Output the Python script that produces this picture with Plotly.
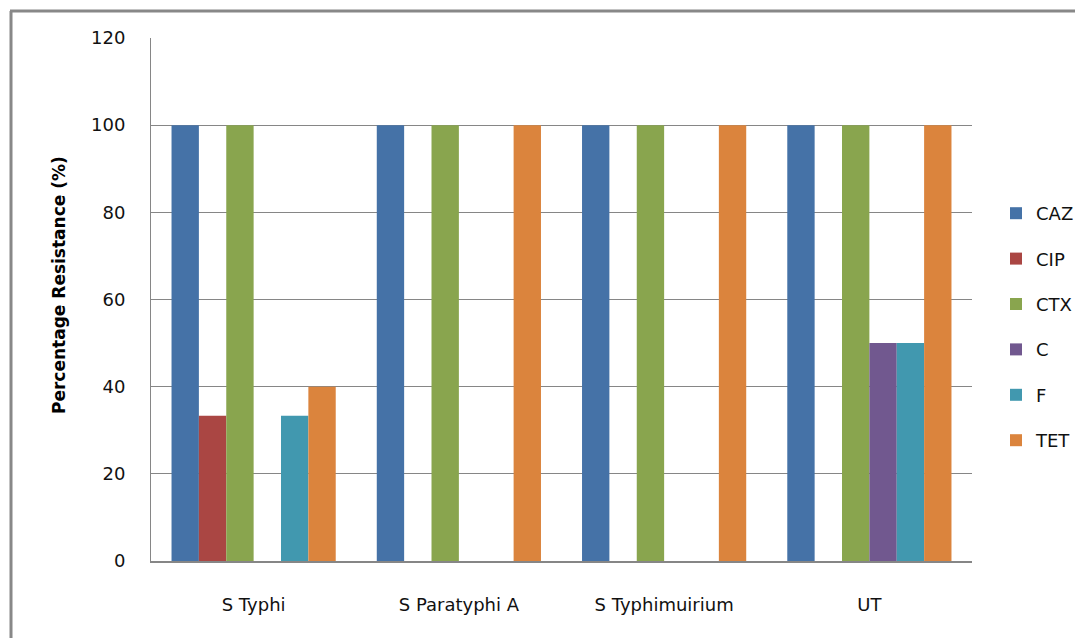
import plotly.graph_objects as go

categories = ["S Typhi", "S Paratyphi A", "S Typhimuirium", "UT"]
series_names = ["CAZ", "CIP", "CTX", "C", "F", "TET"]
caz = [100, 100, 100, 100]
cip = [33.3, 0, 0, 0]
ctx = [100, 100, 100, 100]
c_vals = [0, 0, 0, 50]
f_vals = [33.3, 0, 0, 50]
tet = [40, 100, 100, 100]
y_ticks = [0, 20, 40, 60, 80, 100, 120]

series_values = [caz, cip, ctx, c_vals, f_vals, tet]
colors = ["#4572A7", "#AA4643", "#89A54E", "#71588F", "#4198AF", "#DB843D"]

FONT = "DejaVu Sans, Liberation Sans, Arial"

fig = go.Figure()
for name, vals, col in zip(series_names, series_values, colors):
    fig.add_trace(go.Bar(x=categories, y=vals, name=name, marker_color=col,
                         marker_line_width=0, legendgroup=name))

# page body has an 8px margin; figure coordinates are offset accordingly
OFF = 8
FW, FH = 1083 - OFF, 638 - OFF
L, T, W, H = 151 - OFF, 38 - OFF, 821, 523
def px(x):
    return (x - OFF - L) / W
def py(y):
    return (T + H - (y - OFF)) / H

fig.update_layout(
    width=FW, height=FH,
    margin=dict(l=L, r=FW - L - W, t=T, b=FH - T - H, autoexpand=False),
    paper_bgcolor="white", plot_bgcolor="white",
    barmode="group", bargap=0.2, bargroupgap=0,
    font=dict(family=FONT, size=18, color="#111111"),
    xaxis=dict(showgrid=False, showline=True, linecolor="#868686", linewidth=2,
               ticks="", ticklabelstandoff=26, tickfont=dict(size=18, color="#111111")),
    yaxis=dict(range=[0, 120], tickvals=y_ticks, showgrid=True, gridcolor="#868686",
               gridwidth=1, showline=True, linecolor="#868686", linewidth=1,
               ticks="", ticklabelstandoff=21, zeroline=False,
               tickfont=dict(size=18, color="#111111")),
    legend=dict(x=px(996), y=py(195), xanchor="left", yanchor="top",
                tracegroupgap=19, font=dict(size=18, color="#111111"),
                bgcolor="rgba(0,0,0,0)"),
    annotations=[
        dict(text="<b>Percentage Resistance (%)</b>", xref="paper", yref="paper",
             x=px(59), y=py(285), xanchor="center", yanchor="middle", textangle=-90,
             showarrow=False, font=dict(size=17, color="#000000")),
    ],
    shapes=[
        dict(type="line", xref="paper", yref="paper", x0=px(11), y0=py(645), x1=px(11), y1=py(11),
             line=dict(color="#888888", width=3)),
        dict(type="line", xref="paper", yref="paper", x0=px(10), y0=py(11), x1=px(1090), y1=py(11),
             line=dict(color="#888888", width=3)),
    ],
)

fig.write_html("out.html")
